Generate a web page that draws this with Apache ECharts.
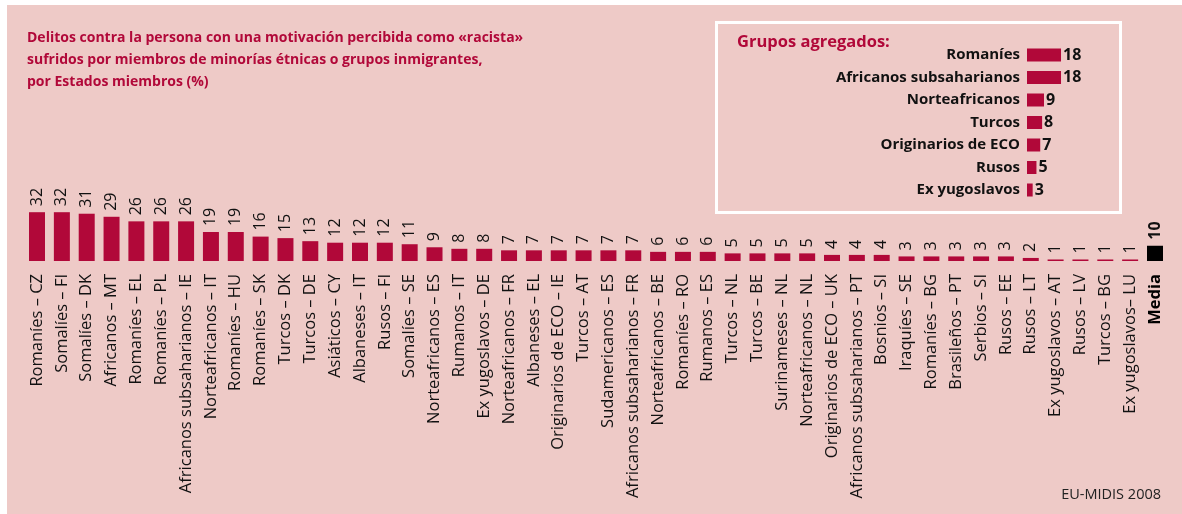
<!DOCTYPE html>
<html>
<head>
<meta charset="utf-8">
<script src="https://cdn.jsdelivr.net/npm/echarts@6/dist/echarts.min.js"></script>
<style>
  html, body { margin: 0; padding: 0; background: #fff; }
  #chart { width: 1182px; height: 514px; }
</style>
</head>
<body>
<div id="chart"></div>
<script>
// datos principales
const categorias = [
  'Romaníes – CZ', 'Somalíes – FI', 'Somalíes – DK', 'Africanos – MT', 'Romaníes – EL',
  'Romaníes – PL', 'Africanos subsaharianos – IE', 'Norteafricanos – IT', 'Romaníes – HU',
  'Romaníes – SK', 'Turcos – DK', 'Turcos – DE', 'Asiáticos – CY', 'Albaneses – IT',
  'Rusos – FI', 'Somalíes – SE', 'Norteafricanos – ES', 'Rumanos – IT', 'Ex yugoslavos – DE',
  'Norteafricanos – FR', 'Albaneses – EL', 'Originarios de ECO – IE', 'Turcos – AT',
  'Sudamericanos – ES', 'Africanos subsaharianos – FR', 'Norteafricanos – BE', 'Romaníes – RO',
  'Rumanos – ES', 'Turcos – NL', 'Turcos – BE', 'Surinameses – NL', 'Norteafricanos – NL',
  'Originarios de ECO – UK', 'Africanos subsaharianos – PT', 'Bosnios – SI', 'Iraquíes – SE',
  'Romaníes – BG', 'Brasileños – PT', 'Serbios – SI', 'Rusos – EE', 'Rusos – LT',
  'Ex yugoslavos – AT', 'Rusos – LV', 'Turcos – BG', 'Ex yugoslavos– LU', 'Media'
];
const valores = [
  32, 32, 31, 29, 26, 26, 26, 19, 19, 16, 15, 13, 12, 12, 12, 11, 9, 8, 8,
  7, 7, 7, 7, 7, 7, 6, 6, 6, 5, 5, 5, 5, 4, 4, 4, 3, 3, 3, 3, 3, 2, 1, 1, 1, 1, 10
];

// grupos agregados
const grupos = ['Romaníes', 'Africanos subsaharianos', 'Norteafricanos', 'Turcos',
  'Originarios de ECO', 'Rusos', 'Ex yugoslavos'];
const gruposValores = [18, 18, 9, 8, 7, 5, 3];

const rojo = '#b10839';
const fuente = '"Open Sans", sans-serif';

const chart = echarts.init(document.getElementById('chart'));

const option = {
  backgroundColor: '#fff',
  animation: false,
  textStyle: { fontFamily: fuente },
  graphic: [
    { type: 'rect', z: -10, silent: true, shape: { x: 7, y: 5, width: 1175, height: 509 },
      style: { fill: '#eecac7' } },
    { type: 'rect', z: -5, silent: true, shape: { x: 716.5, y: 22.5, width: 404, height: 190 },
      style: { fill: 'none', stroke: '#fff', lineWidth: 3 } },
    { type: 'text', left: 27, top: 27, style: {
        text: 'Delitos contra la persona con una motivación percibida como «racista»\nsufridos por miembros de minorías étnicas o grupos inmigrantes,\npor Estados miembros (%)',
        fill: rojo, font: 'bold 14px "Open Sans", sans-serif', lineHeight: 22 } },
    { type: 'text', left: 737, top: 34, style: {
        text: 'Grupos agregados:', fill: rojo, font: '700 16.5px "Open Sans", sans-serif' } },
    { type: 'text', right: 21, top: 487, style: {
        text: 'EU-MIDIS 2008', fill: '#222', font: '14.5px "Open Sans", sans-serif' } }
  ],
  grid: [
    { left: 24.6, right: 14.6, top: 200, height: 61 },
    { left: 1027, width: 37.8, top: 43.75, height: 157.5 }
  ],
  xAxis: [
    {
      type: 'category', gridIndex: 0, data: categorias,
      axisLine: { show: false }, axisTick: { show: false },
      axisLabel: {
        interval: 0, rotate: 90, margin: 13, color: '#111', fontSize: 16.5,
        fontFamily: fuente,
        formatter: v => v === 'Media' ? '{b|Media}' : v,
        rich: { b: { fontWeight: 'bold', fontSize: 16.5, color: '#000' } }
      }
    },
    { type: 'value', gridIndex: 1, min: 0, max: 20, show: false }
  ],
  yAxis: [
    { type: 'value', gridIndex: 0, min: 0, max: 40, show: false },
    {
      type: 'category', gridIndex: 1, data: grupos, inverse: true,
      axisLine: { show: false }, axisTick: { show: false },
      axisLabel: { margin: 7, color: '#111', fontSize: 15, fontWeight: 'bold', fontFamily: fuente }
    }
  ],
  series: [
    {
      type: 'bar', xAxisIndex: 0, yAxisIndex: 0, barWidth: 16,
      data: valores.map((v, i) => categorias[i] === 'Media'
        ? { value: v, itemStyle: { color: '#000' }, label: { fontWeight: 'bold' } }
        : v),
      itemStyle: { color: rojo },
      label: {
        show: true, position: 'top', rotate: 90, distance: 6,
        align: 'left', verticalAlign: 'middle',
        color: '#111', fontSize: 16, fontFamily: fuente
      }
    },
    {
      type: 'bar', xAxisIndex: 1, yAxisIndex: 1, barWidth: 13,
      data: gruposValores,
      itemStyle: { color: rojo },
      label: {
        show: true, position: 'right', distance: 2,
        color: '#111', fontSize: 16, fontWeight: 'bold', fontFamily: fuente
      }
    }
  ]
};

chart.setOption(option);
</script>
</body>
</html>
